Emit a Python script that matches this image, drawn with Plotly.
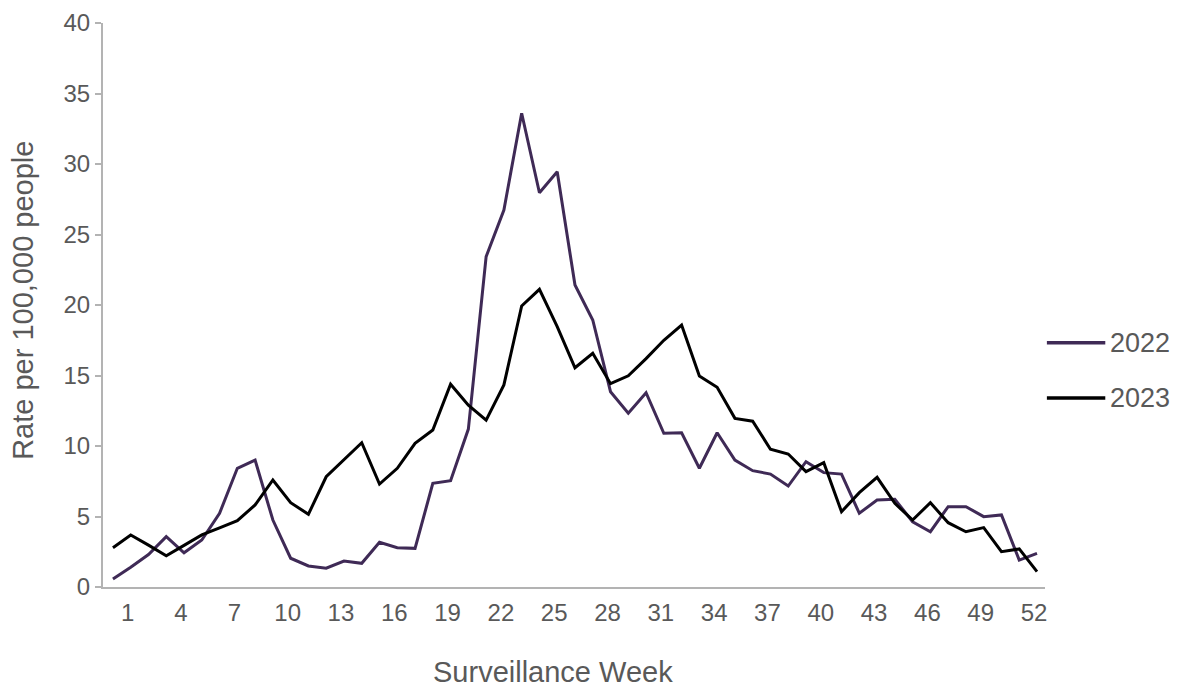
import plotly.graph_objects as go

# surveillance weeks (x) and weekly rates per 100,000 people
weeks = list(range(0, 53))
tick_weeks = list(range(1, 53, 3))

rate_2022 = [0.57, 1.4, 2.3, 3.57, 2.43, 3.33, 5.23, 8.42, 9.0, 4.75,
             2.04, 1.49, 1.33, 1.84, 1.68, 3.17, 2.79, 2.74, 7.35, 7.54,
             11.2, 23.43, 26.74, 33.6, 27.96, 29.45, 21.42, 18.94, 13.85, 12.32,
             13.78, 10.9, 10.94, 8.42, 10.94, 9.0, 8.25, 8.01, 7.16, 8.89,
             8.11, 8.01, 5.23, 6.17, 6.22, 4.63, 3.92, 5.7, 5.7, 4.99,
             5.11, 1.91, 2.39]

rate_2023 = [2.79, 3.69, 2.97, 2.22, 2.95, 3.69, 4.2, 4.7, 5.82, 7.59,
             5.98, 5.16, 7.82, 9.03, 10.23, 7.3, 8.42, 10.19, 11.13, 14.38,
             12.9, 11.84, 14.33, 19.93, 21.11, 18.46, 15.55, 16.57, 14.42, 14.98,
             16.2, 17.5, 18.58, 14.96, 14.16, 11.96, 11.76, 9.77, 9.43, 8.18,
             8.82, 5.34, 6.69, 7.78, 5.93, 4.75, 5.98, 4.56, 3.92, 4.21,
             2.5, 2.7, 1.09]

series = [("2022", rate_2022, "#3f2a56"), ("2023", rate_2023, "#000000")]

FONT = "Liberation Sans, Arial, sans-serif"
GREY_TXT = "#595959"
GREY_AX = "#b3b3b3"

fig = go.Figure()
for name, vals, col in series:
    fig.add_trace(go.Scatter(x=weeks, y=vals, mode="lines", name=name,
                             line=dict(color=col, width=3), showlegend=False))

# hand-made legend on the right, long line samples like the original
legend_y = [0.433, 0.335]
for (name, vals, col), ly in zip(series, legend_y):
    fig.add_shape(type="line", xref="paper", yref="paper",
                  x0=1.002, x1=1.064, y0=ly, y1=ly,
                  line=dict(color=col, width=3.5))
    fig.add_annotation(x=1.067, y=ly, xref="paper", yref="paper", text=name,
                       showarrow=False, xanchor="left", yanchor="middle",
                       font=dict(size=27, color=GREY_TXT, family=FONT))

fig.add_annotation(x=0.478, y=-0.150, xref="paper", yref="paper",
                   text="Surveillance Week", showarrow=False,
                   xanchor="center", yanchor="middle",
                   font=dict(size=29, color=GREY_TXT, family=FONT))
fig.add_annotation(x=-0.085, y=0.509, xref="paper", yref="paper",
                   text="Rate per 100,000 people", showarrow=False, textangle=-90,
                   xanchor="center", yanchor="middle",
                   font=dict(size=29, color=GREY_TXT, family=FONT))

fig.update_xaxes(range=[-0.56, 52.45], tickvals=tick_weeks, showgrid=False,
                 zeroline=False, showline=True, linecolor=GREY_AX, linewidth=2,
                 ticks="", ticklabelstandoff=3, ticklabelshift=-3, automargin=False,
                 tickfont=dict(size=24, color=GREY_TXT, family=FONT))
fig.update_yaxes(range=[0, 40], dtick=5, showgrid=False, zeroline=False,
                 showline=True, linecolor=GREY_AX, linewidth=2, automargin=False,
                 ticks="outside", ticklen=6, tickcolor=GREY_AX, tickwidth=2,
                 tickfont=dict(size=24, color=GREY_TXT, family=FONT))

# the page body adds an 8px offset at top-left
fig.update_layout(width=1175, height=680, plot_bgcolor="white", paper_bgcolor="white",
                  margin=dict(l=95, r=138, t=15, b=101), showlegend=False)

fig.write_html("out.html")
